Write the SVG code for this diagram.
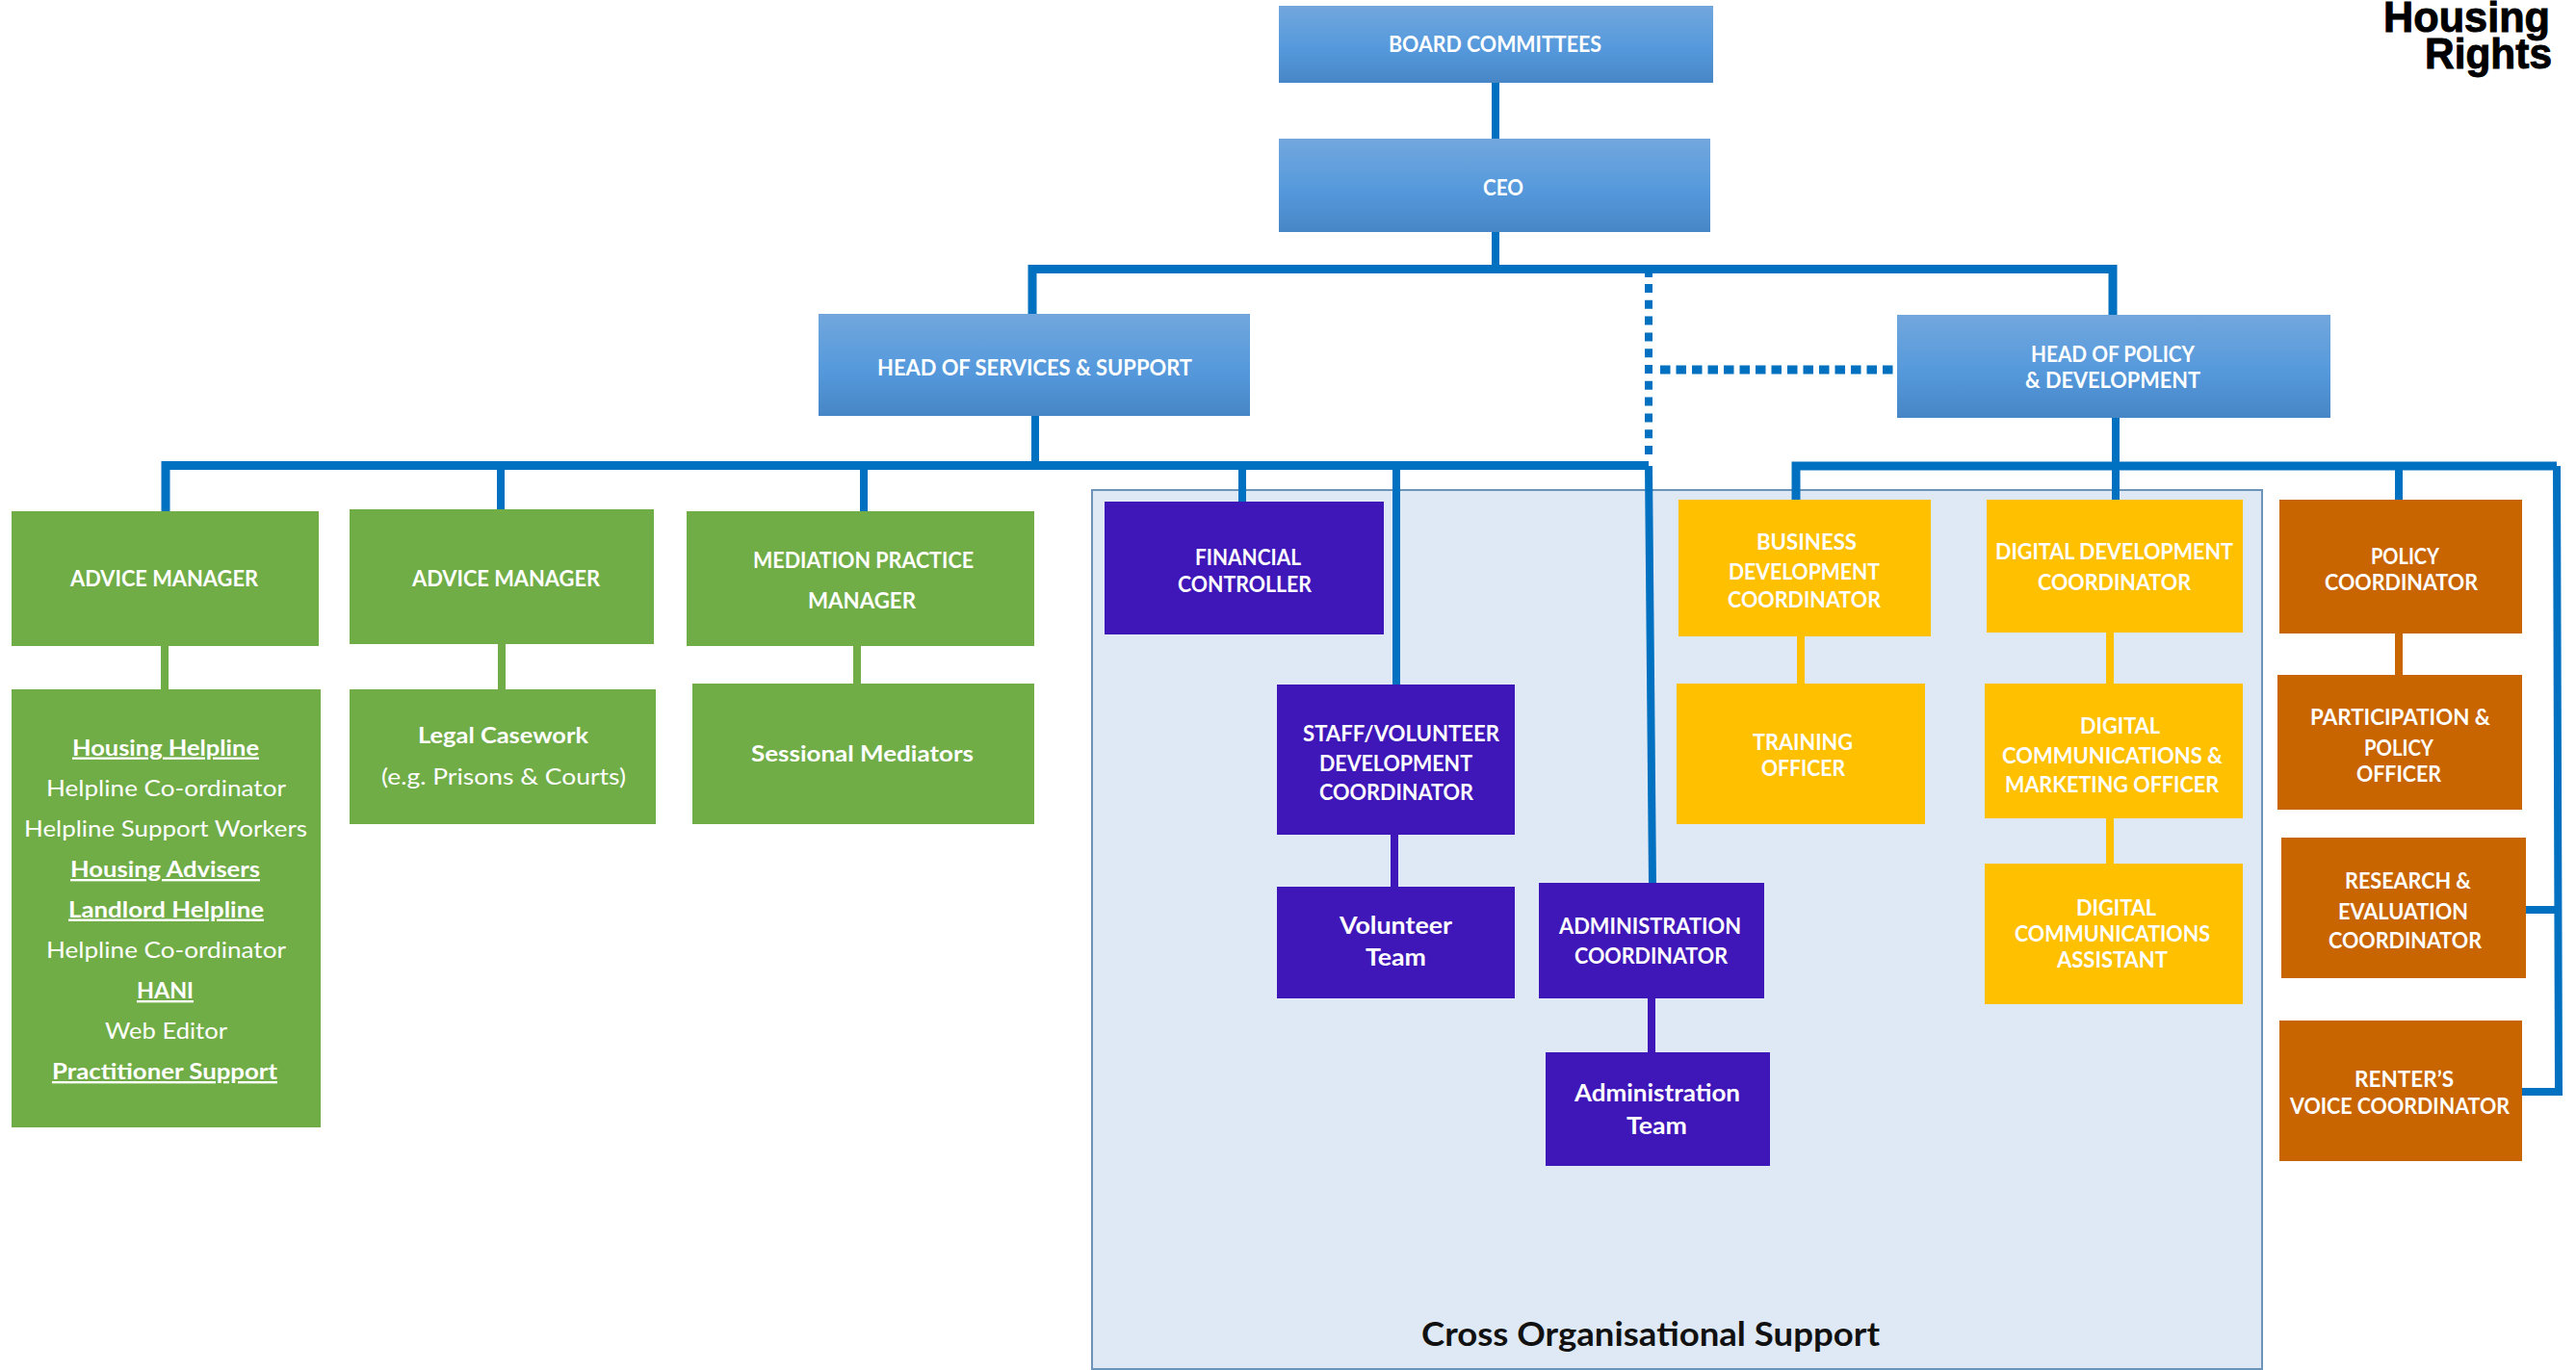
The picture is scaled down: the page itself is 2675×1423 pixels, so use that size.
<svg xmlns="http://www.w3.org/2000/svg" width="2675" height="1423" viewBox="0 0 2675 1423">
<style>
text{font-family:"Lato","Open Sans","Liberation Sans",sans-serif;font-weight:700;font-size:23.5px;fill:#fff}
.r{font-weight:400}
.u{text-decoration:underline}
.t{font-size:25px}
.blue{fill:url(#bg)}
.green{fill:#70AD47}
.purple{fill:#3F17B8}
.yellow{fill:#FFC000}
.orange{fill:#C96500}
.c{fill:none;stroke:#0070C0;stroke-width:8}
.dv{stroke-dasharray:9 7.800}
.dh{stroke-width:9;stroke-dasharray:10.500 6}
.cg{fill:none;stroke:#70AD47;stroke-width:8}
.cp{fill:none;stroke:#3F17B8;stroke-width:8}
.cy{fill:none;stroke:#FFC000;stroke-width:8}
.co{fill:none;stroke:#C96500;stroke-width:8}
.logo{font-family:"Liberation Sans",Arial,sans-serif;font-size:45px;fill:#000;stroke:#000;stroke-width:1}
.cap{font-size:34px;fill:#111}
</style>
<defs>
<linearGradient id="bg" x1="0" y1="0" x2="0" y2="1">
<stop offset="0" stop-color="#72A7DD"/><stop offset="0.55" stop-color="#5599DC"/><stop offset="1" stop-color="#4786C6"/>
</linearGradient>
</defs>
<rect width="2675" height="1423" fill="#fff"/>
<rect id="panel" x="1134" y="509" width="1215" height="913" fill="#DEE9F5" stroke="#6C93B8" stroke-width="2"/>
<g id="connectors">
<path class="c" d="M1553 86V144M1553 241V280"/>
<path class="c" style="stroke-width:9" d="M1072 326V279.500H2194V327"/>
<path class="c" d="M1712 280V288"/>
<path class="c dv" d="M1712 295V473"/>
<path class="c dh" d="M1724 384H1968"/>
<path class="c" d="M1075 432V484"/>
<path class="c" style="stroke-width:9" d="M172 531V483.500H1712"/>
<path class="c" d="M520 484V529M897 484V531M1290 484V521M1450 484V711"/>
<path class="c" d="M1712 484L1716 917"/>
<path class="c" d="M2197 434V519"/>
<path class="c" style="stroke-width:9" d="M1865 519V484H2655"/>
<path class="c" d="M1865 484V519M2491 484V519"/>
<path class="c" d="M2655 484L2657 1134H2619M2623 945H2656"/>
<path class="cg" d="M171 671V716M521 669V716M890 671V710"/>
<path class="cp" d="M1448 867V921M1715 1037V1093"/>
<path class="cy" d="M1870 661V710M2191 657V710M2191 850V897"/>
<path class="co" d="M2491 658V701"/>
</g>
<g id="board"><rect class="blue" x="1328" y="6" width="451" height="80"/><text x="1442" y="54" textLength="221" lengthAdjust="spacingAndGlyphs">BOARD COMMITTEES</text></g>
<g id="ceo"><rect class="blue" x="1328" y="144" width="448" height="97"/><text x="1540" y="203" textLength="42" lengthAdjust="spacingAndGlyphs">CEO</text></g>
<g id="head-services"><rect class="blue" x="850" y="326" width="448" height="106"/><text x="911" y="390" textLength="327" lengthAdjust="spacingAndGlyphs">HEAD OF SERVICES &amp; SUPPORT</text></g>
<g id="head-policy"><rect class="blue" x="1970" y="327" width="450" height="107"/><text x="2109" y="376" textLength="170" lengthAdjust="spacingAndGlyphs">HEAD OF POLICY</text><text x="2103" y="403" textLength="182" lengthAdjust="spacingAndGlyphs">&amp; DEVELOPMENT</text></g>
<g id="advice-1"><rect class="green" x="12" y="531" width="319" height="140"/><text x="73" y="609" textLength="195" lengthAdjust="spacingAndGlyphs">ADVICE MANAGER</text></g>
<g id="advice-2"><rect class="green" x="363" y="529" width="316" height="140"/><text x="428" y="609" textLength="195" lengthAdjust="spacingAndGlyphs">ADVICE MANAGER</text></g>
<g id="mediation"><rect class="green" x="713" y="531" width="361" height="140"/><text x="782" y="590" textLength="229" lengthAdjust="spacingAndGlyphs">MEDIATION PRACTICE</text><text x="839" y="632" textLength="112" lengthAdjust="spacingAndGlyphs">MANAGER</text></g>
<g id="helpline"><rect class="green" x="12" y="716" width="321" height="455"/>
<text class="u" x="75" y="784.500" textLength="194" lengthAdjust="spacingAndGlyphs">Housing Helpline</text>
<text class="r" x="48" y="827" textLength="249" lengthAdjust="spacingAndGlyphs">Helpline Co-ordinator</text>
<text class="r" x="25" y="869" textLength="294" lengthAdjust="spacingAndGlyphs">Helpline Support Workers</text>
<text class="u" x="73" y="911" textLength="197" lengthAdjust="spacingAndGlyphs">Housing Advisers</text>
<text class="u" x="71" y="952.500" textLength="203" lengthAdjust="spacingAndGlyphs">Landlord Helpline</text>
<text class="r" x="48" y="995" textLength="249" lengthAdjust="spacingAndGlyphs">Helpline Co-ordinator</text>
<text class="u" x="142" y="1037" textLength="59" lengthAdjust="spacingAndGlyphs">HANI</text>
<text class="r" x="109" y="1079" textLength="127" lengthAdjust="spacingAndGlyphs">Web Editor</text>
<text class="u" x="54" y="1121" textLength="234" lengthAdjust="spacingAndGlyphs">Practitioner Support</text></g>
<g id="legal"><rect class="green" x="363" y="716" width="318" height="140"/><text x="434" y="772" textLength="177" lengthAdjust="spacingAndGlyphs">Legal Casework</text><text class="r" x="396" y="815" textLength="254" lengthAdjust="spacingAndGlyphs">(e.g. Prisons &amp; Courts)</text></g>
<g id="sessional"><rect class="green" x="719" y="710" width="355" height="146"/><text x="780" y="791" textLength="231" lengthAdjust="spacingAndGlyphs">Sessional Mediators</text></g>
<g id="financial"><rect class="purple" x="1147" y="521" width="290" height="138"/><text x="1241" y="587" textLength="110" lengthAdjust="spacingAndGlyphs">FINANCIAL</text><text x="1223" y="615" textLength="139" lengthAdjust="spacingAndGlyphs">CONTROLLER</text></g>
<g id="staff"><rect class="purple" x="1326" y="711" width="247" height="156"/><text x="1353" y="770" textLength="204" lengthAdjust="spacingAndGlyphs">STAFF/VOLUNTEER</text><text x="1370" y="801" textLength="159" lengthAdjust="spacingAndGlyphs">DEVELOPMENT</text><text x="1370" y="831" textLength="160" lengthAdjust="spacingAndGlyphs">COORDINATOR</text></g>
<g id="volunteer"><rect class="purple" x="1326" y="921" width="247" height="116"/><text class="t" x="1391" y="970" textLength="117" lengthAdjust="spacingAndGlyphs">Volunteer</text><text class="t" x="1418" y="1003" textLength="63" lengthAdjust="spacingAndGlyphs">Team</text></g>
<g id="admin-coord"><rect class="purple" x="1598" y="917" width="234" height="120"/><text x="1619" y="970" textLength="189" lengthAdjust="spacingAndGlyphs">ADMINISTRATION</text><text x="1635" y="1001" textLength="159" lengthAdjust="spacingAndGlyphs">COORDINATOR</text></g>
<g id="admin-team"><rect class="purple" x="1605" y="1093" width="233" height="118"/><text class="t" x="1635" y="1144" textLength="172" lengthAdjust="spacingAndGlyphs">Administration</text><text class="t" x="1689" y="1178" textLength="63" lengthAdjust="spacingAndGlyphs">Team</text></g>
<g id="business"><rect class="yellow" x="1743" y="519" width="262" height="142"/><text x="1824" y="571" textLength="104" lengthAdjust="spacingAndGlyphs">BUSINESS</text><text x="1795" y="602" textLength="157" lengthAdjust="spacingAndGlyphs">DEVELOPMENT</text><text x="1794" y="631" textLength="159" lengthAdjust="spacingAndGlyphs">COORDINATOR</text></g>
<g id="training"><rect class="yellow" x="1741" y="710" width="258" height="146"/><text x="1820" y="779" textLength="104" lengthAdjust="spacingAndGlyphs">TRAINING</text><text x="1829" y="806" textLength="87" lengthAdjust="spacingAndGlyphs">OFFICER</text></g>
<g id="digital-dev"><rect class="yellow" x="2063" y="519" width="266" height="138"/><text x="2072" y="581" textLength="247" lengthAdjust="spacingAndGlyphs">DIGITAL DEVELOPMENT</text><text x="2116" y="613" textLength="159" lengthAdjust="spacingAndGlyphs">COORDINATOR</text></g>
<g id="digital-comms"><rect class="yellow" x="2061" y="710" width="268" height="140"/><text x="2160" y="761.500" textLength="83" lengthAdjust="spacingAndGlyphs">DIGITAL</text><text x="2079" y="793" textLength="229" lengthAdjust="spacingAndGlyphs">COMMUNICATIONS &amp;</text><text x="2082" y="823" textLength="222" lengthAdjust="spacingAndGlyphs">MARKETING OFFICER</text></g>
<g id="digital-assistant"><rect class="yellow" x="2061" y="897" width="268" height="146"/><text x="2156" y="950.500" textLength="83" lengthAdjust="spacingAndGlyphs">DIGITAL</text><text x="2092" y="978" textLength="203" lengthAdjust="spacingAndGlyphs">COMMUNICATIONS</text><text x="2136" y="1005" textLength="115" lengthAdjust="spacingAndGlyphs">ASSISTANT</text></g>
<g id="policy-coord"><rect class="orange" x="2367" y="519" width="252" height="139"/><text x="2462" y="585.500" textLength="71" lengthAdjust="spacingAndGlyphs">POLICY</text><text x="2414" y="613" textLength="159" lengthAdjust="spacingAndGlyphs">COORDINATOR</text></g>
<g id="participation"><rect class="orange" x="2365" y="701" width="254" height="140"/><text x="2399" y="753" textLength="187" lengthAdjust="spacingAndGlyphs">PARTICIPATION &amp;</text><text x="2455" y="784.500" textLength="72" lengthAdjust="spacingAndGlyphs">POLICY</text><text x="2447" y="812" textLength="88" lengthAdjust="spacingAndGlyphs">OFFICER</text></g>
<g id="research"><rect class="orange" x="2369" y="870" width="254" height="146"/><text x="2435" y="923" textLength="131" lengthAdjust="spacingAndGlyphs">RESEARCH &amp;</text><text x="2428" y="955" textLength="135" lengthAdjust="spacingAndGlyphs">EVALUATION</text><text x="2418" y="984.500" textLength="159" lengthAdjust="spacingAndGlyphs">COORDINATOR</text></g>
<g id="renter"><rect class="orange" x="2367" y="1060" width="252" height="146"/><text x="2445" y="1129" textLength="103" lengthAdjust="spacingAndGlyphs">RENTER’S</text><text x="2378" y="1156.500" textLength="228" lengthAdjust="spacingAndGlyphs">VOICE COORDINATOR</text></g>
<text class="cap" x="1476" y="1397.500" textLength="476" lengthAdjust="spacingAndGlyphs">Cross Organisational Support</text>
<g id="logo"><text class="logo" x="2475" y="33" textLength="173" lengthAdjust="spacingAndGlyphs">Housing</text><text class="logo" x="2518" y="71" textLength="132" lengthAdjust="spacingAndGlyphs">Rights</text></g>
</svg>
